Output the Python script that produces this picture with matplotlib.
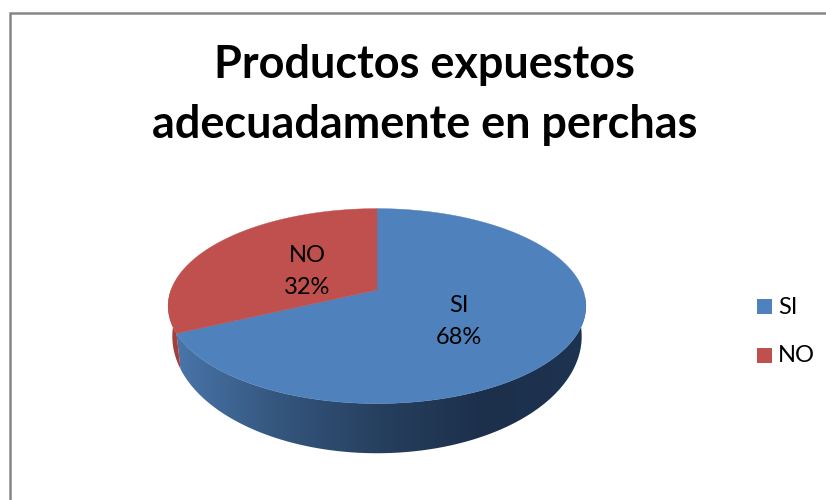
#!/usr/bin/env python3
import numpy as np
import matplotlib
matplotlib.use('Agg')
import matplotlib.pyplot as plt
from matplotlib.colors import LinearSegmentedColormap
from matplotlib.patches import Polygon, Rectangle

title = 'Productos expuestos\nadecuadamente en perchas'
categories = ['SI', 'NO']
shares = [68, 32]
colors = ['#4f81bd', '#c0504d']
side_red = '#a23f3c'
side_blue = ['#4a77ac', '#35577f', '#27405f', '#1c304b', '#1e3350']

plt.rcParams['font.family'] = ['Lato', 'DejaVu Sans']

# pie geometry in pixels, the tilt is a small perspective
CX, CY = 377, 290
D, A, K = 206, 94.8, 0.165
BOTTOM_Y = 317
BOTTOM_SX, BOTTOM_SY = 0.98, 1.2


def project(theta, sx=1.0, sy=1.0, cy=CY):
    c, s = np.cos(theta), np.sin(theta)
    w = 1 + K * s
    return np.column_stack([CX + sx * D * c / w, cy - sy * A * s / w])


def arc(start, end):
    return np.radians(np.linspace(start, end, 200))


def lower(theta):
    return project(theta, BOTTOM_SX, BOTTOM_SY, BOTTOM_Y)


fig = plt.figure(figsize=(8.26, 5), dpi=100)
ax = fig.add_axes([0, 0, 1, 1])
ax.set_xlim(0, 826)
ax.set_ylim(500, 0)
ax.axis('off')

# frame, only top and left show in the crop
ax.plot([10, 10, 826], [500, 12.5, 12.5], color='#868686', lw=1.8,
        solid_joinstyle='miter')

# angle where the NO slice starts, clockwise from the top
no_start = 90 - shares[0] / sum(shares) * 360

# side wall, blue part with gradient
wall = Polygon(np.vstack([project(arc(0, no_start)), lower(arc(no_start, 0))]),
               closed=True, transform=ax.transData, fc='none', ec='none')
ax.add_patch(wall)
cmap = LinearSegmentedColormap.from_list('side', side_blue)
grad = ax.imshow(np.linspace(0, 1, 256).reshape(1, -1), cmap=cmap, aspect='auto',
                 extent=[170, 586, 460, 300], zorder=2)
grad.set_clip_path(wall)
ax.set_xlim(0, 826)
ax.set_ylim(500, 0)

# red sliver of the side wall
ax.add_patch(Polygon(np.vstack([project(arc(no_start, -180)), lower(arc(-180, no_start))]),
                     closed=True, fc=side_red, ec='none', zorder=2))

# top faces
start = 90
for share, color in zip(shares, colors):
    end = start - share / sum(shares) * 360
    pts = np.vstack([[[CX, CY]], project(arc(start, end))])
    ax.add_patch(Polygon(pts, closed=True, fc=color, ec=color, lw=0.3, zorder=3))
    start = end

# labels
ax.text(425, 65, title.split('\n')[0], fontsize=32.4, fontweight='bold',
        ha='center', va='center', color='black', zorder=5)
ax.text(425, 125, title.split('\n')[1], fontsize=32.4, fontweight='bold',
        ha='center', va='center', color='black', zorder=5)

label_pos = [(459, 305, 338), (307, 255, 287)]
for name, share, (x, y1, y2) in zip(categories, shares, label_pos):
    ax.text(x, y1, name, fontsize=17, ha='center', va='center', zorder=5)
    ax.text(x, y2, f'{share}%', fontsize=17, ha='center', va='center', zorder=5)

# legend
legend_y = [306.5, 355]
for name, color, y in zip(categories, colors, legend_y):
    ax.add_patch(Rectangle((757, y - 7.5), 15, 15, fc=color, ec='none', zorder=5))
    ax.text(778, y + 1, name, fontsize=17, ha='left', va='center', zorder=5)

fig.savefig('out.png', dpi=100, facecolor='white')
